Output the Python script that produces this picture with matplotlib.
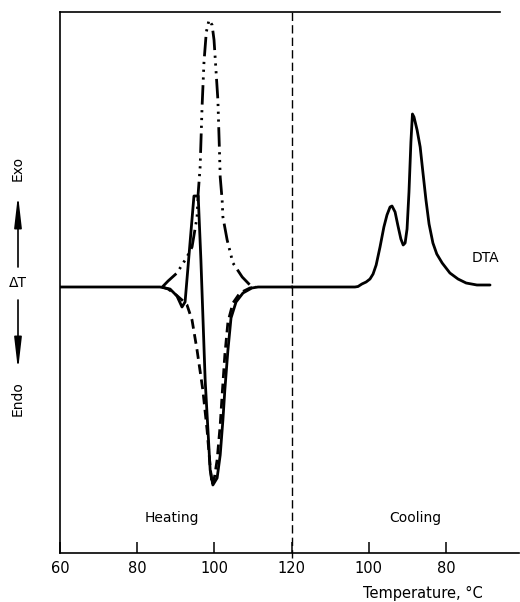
import numpy as np
import matplotlib.pyplot as plt

# heating run, temperature in degC and delta T (arbitrary units)
heat_solid_T = [60, 85.9, 88.5, 90.3, 91.6, 92.4, 94.7, 95.8, 96.5, 97.6, 98.9, 99.6,
                100.7, 101.5, 102.2, 102.7, 103.5, 104.3, 105.6, 107.4, 109.7, 111.3, 120]
heat_solid_dT = [0, 0, -0.2, -0.9, -2.0, -1.5, 9.1, 9.1, 2.7, -9.3, -18.3, -19.8,
                 -19.1, -16.8, -13.3, -10.3, -6.3, -3.1, -1.5, -0.6, -0.1, 0, 0]

heat_dash_T = [86.5, 88.0, 89.8, 91.6, 92.9, 94.2, 95.5, 97.0, 98.1, 98.9, 99.4,
               99.9, 100.7, 101.5, 102.0, 102.7, 103.5, 104.8, 106.6, 109.2, 110.8]
heat_dash_dT = [0, -0.2, -0.7, -1.3, -1.8, -3.3, -6.3, -10.3, -14.3, -18.0, -19.8,
                -19.3, -17.3, -13.8, -10.8, -6.8, -3.5, -1.6, -0.6, -0.1, 0]

heat_dot_T = [86.5, 88.0, 90.3, 92.9, 94.2, 95.5, 95.8, 96.3, 96.8, 97.3, 97.9, 98.6,
              99.4, 99.9, 100.4, 100.9, 101.3, 101.5, 102.0, 102.2, 103.3, 104.8,
              107.2, 109.2, 110.5]
heat_dot_dT = [0, 0.6, 1.4, 3.0, 4.0, 7.0, 9.4, 12.0, 18.0, 22.5, 25.5, 26.7,
               26.2, 24.7, 21.7, 18.7, 13.7, 11.0, 8.7, 7.0, 4.7, 2.4,
               1.0, 0.2, 0]

# cooling run (temperature decreasing)
cool_T = [120, 103.6, 102.8, 101.8, 100.7, 99.7, 98.9, 98.1, 97.1, 96.1, 95.3, 94.5,
          94.0, 93.2, 92.5, 91.7, 91.1, 90.6, 90.1, 89.6, 89.1, 88.7, 88.3, 87.5,
          86.7, 86.0, 85.2, 84.4, 83.4, 82.4, 81.0, 79.0, 76.9, 74.8, 72.0, 68.6]
cool_dT = [0, 0, 0.05, 0.3, 0.5, 0.8, 1.3, 2.2, 4.0, 6.0, 7.2, 8.0,
           8.1, 7.5, 6.2, 4.8, 4.2, 4.4, 5.8, 9.5, 14.5, 17.3, 17.0, 15.7,
           14.0, 11.5, 8.7, 6.3, 4.4, 3.3, 2.4, 1.4, 0.8, 0.4, 0.2, 0.2]

tick_pos = [0, 20, 40, 60, 80, 100]
tick_labels = ['60', '80', '100', '120', '100', '80']


def heat_x(T):
    return np.array(T) - 60


def cool_x(T):
    return 180 - np.array(T)


fig = plt.figure(figsize=(5.2, 6.02), dpi=100)
ax = fig.add_axes([60/520, 49/602, 459/520, 541/602])

lw = 2.0
ax.plot(heat_x(heat_dash_T), heat_dash_dT, color='k', lw=lw, ls=(0, (3.5, 2)))
ax.plot(heat_x(heat_dot_T), heat_dot_dT, color='k', lw=lw,
        ls=(0, (7, 2, 0.8, 2, 0.8, 2, 0.8, 2)))
ax.plot(heat_x(heat_solid_T), heat_solid_dT, color='k', lw=lw)
ax.plot(cool_x(cool_T), cool_dT, color='k', lw=lw, solid_capstyle='round',
        solid_joinstyle='round')

ax.axvline(60, color='k', lw=1.0, ls=(0, (6, 3)), ymin=-0.01, clip_on=False)

ax.set_xlim(0, 118.9)
ax.set_ylim(-26.6, 27.5)
ax.spines['right'].set_visible(False)
ax.spines['top'].set_bounds(0, 114)
for s in ['left', 'bottom', 'top']:
    ax.spines[s].set_linewidth(1.2)

ax.set_yticks([])
ax.set_xticks(tick_pos)
ax.set_xticklabels(tick_labels)
ax.tick_params(axis='x', direction='in', length=8, width=1.1, pad=6, labelsize=10.5)

ax.text(29, -23.1, 'Heating', ha='center', va='center', fontsize=10)
ax.text(92, -23.1, 'Cooling', ha='center', va='center', fontsize=10)
ax.text(110.1, 2.9, 'DTA', ha='center', va='center', fontsize=10)

fig.text(423/520, 1 - 593/602, 'Temperature, °C', ha='center', va='center', fontsize=10.5)

# left-hand exo / endo labels
xl = 18/520
fig.text(xl, 1 - 168/602, 'Exo', rotation=90, ha='center', va='center', fontsize=10)
fig.text(xl, 1 - 283/602, 'ΔT', ha='center', va='center', fontsize=10)
fig.text(xl, 1 - 399/602, 'Endo', rotation=90, ha='center', va='center', fontsize=10)
arrow = dict(arrowstyle='-|>,head_length=1.9,head_width=0.22', lw=1.2, color='k',
             shrinkA=0, shrinkB=0)
fig.add_artist(plt.Annotation('', xy=(xl, 1 - 195/602), xytext=(xl, 1 - 267/602),
                              xycoords='figure fraction', arrowprops=arrow))
fig.add_artist(plt.Annotation('', xy=(xl, 1 - 370/602), xytext=(xl, 1 - 300/602),
                              xycoords='figure fraction', arrowprops=arrow))

fig.savefig('out.png', dpi=100)
